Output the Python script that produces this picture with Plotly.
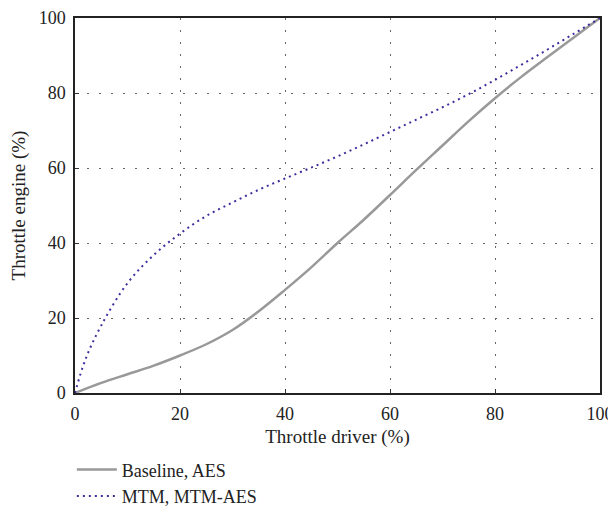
import plotly.graph_objects as go

x_base = [0, 5, 10, 15, 20, 25, 30, 35, 40, 45, 50, 55, 60, 65, 70, 75, 80, 85, 90, 95, 100]
y_base = [0, 2.7, 5, 7.3, 10, 13, 16.8, 21.8, 27.5, 33.5, 40, 46.2, 52.8, 59.5, 66, 72.5, 78.6, 84.3, 89.6, 94.8, 100]

x_mtm = [0, 2, 5, 10, 15, 20, 25, 30, 35, 40, 45, 50, 55, 60, 65, 70, 75, 80, 85, 90, 95, 100]
y_mtm = [0, 9, 18, 29.3, 36.8, 42.5, 47.2, 50.8, 54.2, 57.2, 60.1, 63.1, 66.3, 69.6, 72.9, 76.2, 79.7, 83.5, 87.5, 91.6, 95.8, 100]

tick_vals = [0, 20, 40, 60, 80, 100]

font_family = "Liberation Serif, DejaVu Serif, serif"
txt = "#222222"

fig = go.Figure()
fig.add_trace(go.Scatter(x=x_base, y=y_base, mode="lines", name="Baseline, AES",
                         line=dict(color="#999999", width=2.5, shape="spline")))
fig.add_trace(go.Scatter(x=x_mtm, y=y_mtm, mode="lines", name="MTM, MTM-AES",
                         line=dict(color="#3b2f9e", width=2, dash="2px,4px", shape="spline")))

axis_common = dict(range=[0, 100], tickvals=tick_vals, showgrid=True, gridcolor="#666666",
                   griddash="2px,10px", gridwidth=1, zeroline=False, showline=True, linecolor="#222222",
                   linewidth=1.5, mirror=True, ticks="inside", ticklen=4, tickcolor="#333333",
                   automargin=False, ticklabelstandoff=4, ticklabeloverflow="allow",
                   tickfont=dict(size=18, color=txt, family=font_family))

fig.update_xaxes(title=dict(text="Throttle driver (%)", font=dict(size=19, color=txt, family=font_family), standoff=6),
                 **axis_common)
fig.update_yaxes(title=dict(text="Throttle engine (%)", font=dict(size=19, color=txt, family=font_family), standoff=8),
                 **axis_common)

fig.update_layout(
    width=608, height=501,
    margin=dict(l=67, r=16, t=10, b=116),
    paper_bgcolor="white", plot_bgcolor="white",
    font=dict(family=font_family, size=18, color=txt),
    showlegend=True,
    legend=dict(x=-0.006, y=0.115, xref="paper", yref="container", xanchor="left", yanchor="top",
                bgcolor="rgba(0,0,0,0)",
                font=dict(size=18, family=font_family, color=txt), tracegroupgap=0,
                itemwidth=40),
)

fig.write_html("out.html")
